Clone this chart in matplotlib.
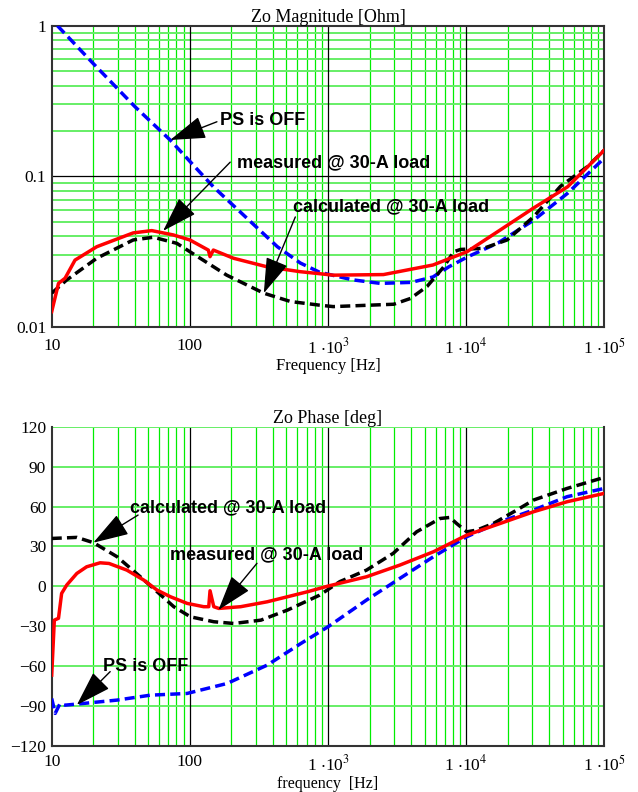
import matplotlib.pyplot as plt
import numpy as np
from matplotlib.ticker import FixedLocator, NullFormatter

# ---- data ----
# magnitude plot [Ohm]
f_off_mag = [11, 20, 40, 72, 148, 430, 630, 870, 1500, 2390, 4000, 5750, 7500, 10150, 17000, 30800, 54200, 100000]
z_off_mag = [1.0, 0.56, 0.29, 0.174, 0.085, 0.034, 0.0265, 0.023, 0.0205, 0.0194, 0.0197, 0.0214, 0.025, 0.029, 0.036, 0.051, 0.077, 0.132]

f_meas_mag = [10, 11.2, 12.5, 14.75, 21.2, 38.9, 53, 76, 100, 136, 140, 148, 207, 362, 630, 870,
              1090, 2520, 5750, 10150, 17700, 30800, 54200, 100000]
z_meas_mag = [0.0126, 0.0194, 0.021, 0.0277, 0.034, 0.042, 0.0435, 0.0407, 0.0377, 0.0323, 0.0292, 0.0323, 0.0285,
              0.025, 0.0232, 0.0225, 0.022, 0.0222, 0.0257, 0.0315, 0.044, 0.0615, 0.085, 0.149]

f_calc_mag = [10, 12.8, 21.2, 38.9, 54.5, 80.5, 100, 185, 343, 535, 870, 1090, 2990, 3950, 5210, 6890, 8130,
              9100, 13400, 19800, 30800, 48200, 75300, 100000]
z_calc_mag = [0.0167, 0.0204, 0.0285, 0.0377, 0.0393, 0.0358, 0.0315, 0.022, 0.0167, 0.0147, 0.0139, 0.0136,
              0.0141, 0.0154, 0.0185, 0.025, 0.0315, 0.0326, 0.0332, 0.0377, 0.0538, 0.0857, 0.1156, 0.149]

# phase plot [deg]
f_off_ph = [10, 10.6, 11.5, 12.5, 17, 29.7, 51.7, 95.5, 186, 363, 635, 1000, 1900, 3316, 5800, 10100, 17670, 30800, 53800, 100000]
p_off_ph = [-84.3, -95.5, -88, -89.3, -88, -85.5, -81.8, -80.5, -73, -59.2, -43, -30.4, -10.3, 6, 22.3, 37.3, 48.6, 57.4, 67.4, 73.6]

f_meas_ph = [10, 10.45, 11.2, 11.8, 12.85, 15.2, 17.9, 22.4, 26, 35, 46.4, 57.9, 72.3, 95.5, 126, 137, 140, 149,
             162, 233, 363, 510, 714, 1000, 1900, 3316, 5800, 10100, 17670, 30800, 53800, 100000]
p_meas_ph = [-66.7, -25.4, -24, -5.3, 1, 9.7, 14.7, 17.7, 17.2, 12.2, 4.7, -2.8, -7.8, -12.8, -15.3, -15.3, -3.3,
             -15.3, -16.6, -15.3, -11.6, -7.8, -4, 0.2, 7.2, 16, 26, 38.5, 47.3, 56.1, 63.6, 69.9]

f_calc_ph = [10, 15.2, 20.1, 29.7, 43.8, 57.9, 76.5, 101, 149, 208, 327, 510, 870, 1215, 1900, 2965, 4380,
             6470, 7640, 8520, 10100, 11960, 15760, 23300, 30800, 53800, 100000]
p_calc_ph = [36, 36.8, 32.8, 22.3, 7.2, -4, -15.3, -22.9, -26.6, -27.9, -25.4, -17.8, -6.6, 3.5, 12.2, 24.8, 41,
             51, 51.8, 47.3, 41, 42.3, 47.3, 57.4, 64.9, 73.6, 81.9]

plt.rcParams['font.family'] = 'Liberation Serif'
plt.rcParams['mathtext.fontset'] = 'stix'

GRID_V = '#00ee00'
GRID_H = '#66ee66'
FRAME = '#333333'
DASH = (0, (2.9, 1.5))
xlabels = ['10', '100', r'1 $\cdot$10$^{3}$', r'1 $\cdot$10$^{4}$', r'1 $\cdot$10$^{5}$']
decades = [10, 100, 1e3, 1e4, 1e5]
minor_x = [m * d for d in decades[:-1] for m in range(2, 10)]


def setup_x(ax, pad):
    ax.set_xscale('log')
    ax.set_xlim(10, 1e5)
    ax.xaxis.set_major_locator(FixedLocator(decades))
    ax.xaxis.set_minor_locator(FixedLocator(minor_x))
    ax.xaxis.set_minor_formatter(NullFormatter())
    ax.set_xticklabels(xlabels)
    for x in minor_x:
        ax.axvline(x, color=GRID_V, lw=0.9, zorder=0)
    for x in decades[1:-1]:
        ax.axvline(x, color='black', lw=0.9, zorder=0.5)
    ax.tick_params(which='both', length=0, labelsize=12.5, pad=pad)
    for s in ax.spines.values():
        s.set_color(FRAME)
        s.set_linewidth(1.5)


def note(ax, text, xy, tail, pos):
    # label text, then a thin line from tail to a filled arrow head at xy
    ax.text(pos[0], pos[1], text, fontsize=13, fontweight='bold',
            family='Liberation Sans', va='center', ha='left', zorder=5)
    ax.annotate('', xy=xy, xytext=tail, zorder=5,
                arrowprops=dict(arrowstyle='-|>,head_length=1.4,head_width=0.45',
                                mutation_scale=16, color='black', lw=1.0,
                                shrinkA=0, shrinkB=0))


fig = plt.figure(figsize=(6.38, 7.92), dpi=100)
ax1 = fig.add_axes([51.7 / 638, 1 - 326.7 / 792, 552.6 / 638, 301 / 792])
ax2 = fig.add_axes([51.7 / 638, 1 - 746 / 792, 552.6 / 638, 319.3 / 792])
xc = (51.7 + 552.6 / 2) / 638

# ---- magnitude ----
setup_x(ax1, 8)
ax1.set_yscale('log')
ax1.set_ylim(0.01, 1)
ax1.yaxis.set_major_locator(FixedLocator([0.01, 0.1, 1]))
ax1.set_yticklabels(['0.01', '0.1', '1'])
ax1.yaxis.set_minor_locator(FixedLocator([m * d for d in [0.01, 0.1] for m in range(2, 10)]))
ax1.yaxis.set_minor_formatter(NullFormatter())
ax1.tick_params(axis='y', pad=4)
for y in [m * d for d in [0.01, 0.1] for m in range(2, 10)]:
    ax1.axhline(y, color=GRID_H, lw=1.4, zorder=0)
ax1.axhline(0.1, color='black', lw=0.9, zorder=0.5)

ax1.plot(f_off_mag, z_off_mag, color='#0000ff', lw=2.5, ls=DASH, zorder=3)
ax1.plot(f_calc_mag, z_calc_mag, color='black', lw=2.5, ls=DASH, zorder=3)
ax1.plot(f_meas_mag, z_meas_mag, color='#ff0000', lw=2.5, zorder=4)

note(ax1, 'PS is OFF', (72, 0.174), (157, 0.23), (166, 0.236))
note(ax1, 'measured @ 30-A load', (64, 0.0433), (196, 0.124), (220, 0.1225))
note(ax1, 'calculated @ 30-A load', (343, 0.0167), (580, 0.0536), (561, 0.0624))

ax1.set_title('Zo Magnitude [Ohm]', fontsize=13, pad=3)
fig.text(xc, 1 - 366 / 792, 'Frequency [Hz]', fontsize=12, ha='center', va='center')

# ---- phase ----
setup_x(ax2, 6)
ax2.set_ylim(-120, 120)
yt = list(range(-120, 121, 30))
ax2.set_yticks(yt)
ax2.set_yticklabels([str(v).replace('-', '\u2212') for v in yt])
ax2.tick_params(axis='y', pad=4)
for y in yt[1:]:
    ax2.axhline(y, color=GRID_H, lw=1.4, zorder=0.6 if y == 120 else 0)
ax2.spines['top'].set_visible(False)

ax2.plot(f_off_ph, p_off_ph, color='#0000ff', lw=2.5, ls=DASH, zorder=3)
ax2.plot(f_calc_ph, p_calc_ph, color='black', lw=2.5, ls=DASH, zorder=3)
ax2.plot(f_meas_ph, p_meas_ph, color='#ff0000', lw=2.5, zorder=4)

note(ax2, 'calculated @ 30-A load', (20, 32.8), (42.2, 53.6), (36.9, 59.4))
note(ax2, 'measured @ 30-A load', (161, -17.8), (306, 17.3), (72, 24.1))
note(ax2, 'PS is OFF', (15.2, -89.2), (26.5, -64.1), (23.5, -59.9))

ax2.set_title('Zo Phase [deg]', fontsize=13, pad=3)
fig.text(xc, 1 - 784 / 792, 'frequency  [Hz]', fontsize=11.5, ha='center', va='center')

fig.savefig('out.png', dpi=100)
